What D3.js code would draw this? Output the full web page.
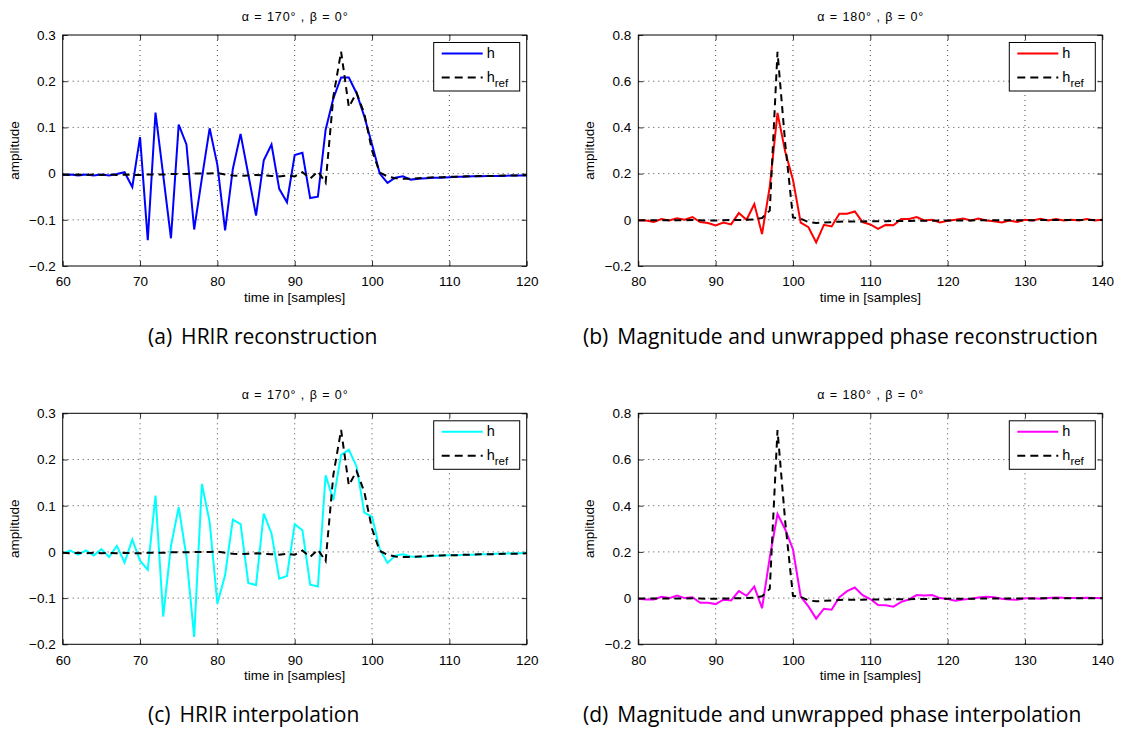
<!DOCTYPE html>
<html>
<head>
<meta charset="utf-8">
<script src="https://cdn.jsdelivr.net/npm/d3@7/dist/d3.min.js"></script>
<style>
  body { margin: 0; background: #fff; }
  svg { display: block; }
</style>
</head>
<body>
<svg id="chart" width="1123" height="731"></svg>
<script>
"use strict";

// ---------- data ----------
// HRIR panels (a) and (c): samples 60..120
const hrirStart = 60;
const hrirXTicks = [60, 70, 80, 90, 100, 110, 120];
const hrirYTicks = [-0.2, -0.1, 0, 0.1, 0.2, 0.3];
const hrirYLabels = ["\u22120.2", "\u22120.1", "0", "0.1", "0.2", "0.3"];

const hrirRef = [
  -0.002, -0.003, -0.002, -0.003, -0.002, -0.003, -0.002, -0.003, -0.002, -0.003,
  -0.003, -0.002, -0.002, -0.002, -0.001, -0.001, -0.001, 0.000, 0.000, 0.000,
  0.001, -0.002, -0.004, -0.005, -0.004, -0.003, -0.004, -0.005, -0.006, -0.004,
  -0.006, 0.003, -0.011, 0.005, -0.020, 0.167, 0.264, 0.144, 0.175, 0.130,
  0.050, 0.002, -0.006, -0.010, -0.011, -0.011, -0.010, -0.009, -0.008, -0.008,
  -0.007, -0.007, -0.006, -0.006, -0.005, -0.005, -0.005, -0.004, -0.004, -0.004,
  -0.003
];

const hrirRecon = [
  -0.003, -0.002, -0.004, -0.002, -0.004, -0.002, -0.004, -0.001, 0.003, -0.029,
  0.079, -0.144, 0.132, -0.004, -0.140, 0.106, 0.063, -0.121, -0.010, 0.098,
  0.019, -0.123, 0.010, 0.086, -0.002, -0.091, 0.029, 0.063, -0.033, -0.062,
  0.040, 0.045, -0.053, -0.050, 0.095, 0.163, 0.208, 0.208, 0.174, 0.124,
  0.063, 0.000, -0.020, -0.009, -0.006, -0.013, -0.011, -0.010, -0.009, -0.009,
  -0.008, -0.007, -0.007, -0.006, -0.006, -0.005, -0.005, -0.005, -0.004, -0.004,
  -0.004
];

const hrirInterp = [
  -0.003, 0.003, -0.006, 0.003, -0.008, 0.006, -0.011, 0.013, -0.023, 0.027,
  -0.019, -0.039, 0.122, -0.140, 0.013, 0.097, -0.010, -0.184, 0.147, 0.065,
  -0.112, -0.050, 0.070, 0.060, -0.067, -0.072, 0.083, 0.040, -0.058, -0.052,
  0.060, 0.047, -0.071, -0.075, 0.166, 0.112, 0.210, 0.221, 0.185, 0.085,
  0.076, 0.006, -0.024, -0.008, -0.005, -0.010, -0.011, -0.010, -0.009, -0.008,
  -0.007, -0.007, -0.006, -0.006, -0.005, -0.005, -0.004, -0.004, -0.003, -0.003,
  -0.002
];

// Magnitude / phase panels (b) and (d): samples 80..140
const magStart = 80;
const magXTicks = [80, 90, 100, 110, 120, 130, 140];
const magYTicks = [-0.2, 0, 0.2, 0.4, 0.6, 0.8];
const magYLabels = ["\u22120.2", "0", "0.2", "0.4", "0.6", "0.8"];

const magRef = [
  -0.002, -0.002, -0.002, -0.002, -0.002, -0.002, -0.002, -0.001, -0.002, -0.003,
  -0.003, -0.002, -0.001, -0.001, 0.000, 0.002, 0.008, 0.040, 0.727, 0.330,
  0.010, 0.005, -0.010, -0.014, -0.012, -0.010, -0.008, -0.007, -0.007, -0.007,
  -0.006, -0.006, -0.006, -0.005, -0.005, -0.005, -0.004, -0.004, -0.004, -0.003,
  -0.003, -0.003, -0.003, -0.003, -0.002, -0.002, -0.002, -0.002, -0.002, -0.002,
  -0.002, -0.002, -0.001, -0.001, -0.001, -0.001, -0.001, -0.001, -0.001, -0.001,
  -0.001
];

const magRecon = [
  -0.003, -0.003, -0.009, 0.003, -0.003, 0.007, 0.000, 0.012, -0.010, -0.014,
  -0.024, -0.012, -0.020, 0.029, 0.000, 0.068, -0.062, 0.144, 0.463, 0.295,
  0.173, -0.012, -0.032, -0.098, -0.022, -0.029, 0.026, 0.026, 0.036, -0.010,
  -0.020, -0.039, -0.022, -0.024, 0.004, 0.004, 0.012, -0.003, 0.000, -0.012,
  -0.004, 0.000, 0.006, -0.003, 0.006, -0.003, -0.006, -0.012, -0.003, -0.009,
  0.000, -0.003, 0.004, -0.003, 0.003, -0.003, 0.000, -0.003, 0.003, -0.003,
  0.000
];

const magInterp = [
  -0.003, -0.006, -0.006, 0.006, 0.000, 0.011, 0.000, 0.004, -0.020, -0.020,
  -0.026, -0.007, -0.010, 0.030, 0.010, 0.050, -0.044, 0.176, 0.364, 0.297,
  0.211, 0.007, -0.036, -0.089, -0.046, -0.050, 0.004, 0.030, 0.046, 0.013,
  -0.004, -0.030, -0.031, -0.037, -0.016, -0.006, 0.013, 0.011, 0.013, 0.000,
  -0.004, -0.011, -0.006, -0.003, 0.003, 0.006, 0.004, -0.003, -0.006, -0.007,
  -0.001, -0.001, -0.003, 0.000, 0.003, 0.001, 0.000, 0.000, 0.001, 0.000,
  0.000
];

// ---------- layout ----------
const svg = d3.select("#chart");
const plotW = 464;
const plotH = 231;
const colLeft = [62.7, 638.3];
const rowTop = [35, 413.3];

const panels = [
  { left: colLeft[0], top: rowTop[0], start: hrirStart, xTicks: hrirXTicks, yTicks: hrirYTicks,
    yLabels: hrirYLabels, h: hrirRecon, ref: hrirRef, color: "#0000ff",
    title: "\u03b1 = 170\u00b0 , \u03b2 = 0\u00b0", caption: "(a)", captionText: "HRIR reconstruction", capX: 148 },
  { left: colLeft[1], top: rowTop[0], start: magStart, xTicks: magXTicks, yTicks: magYTicks,
    yLabels: magYLabels, h: magRecon, ref: magRef, color: "#ff0000",
    title: "\u03b1 = 180\u00b0 , \u03b2 = 0\u00b0", caption: "(b)", captionText: "Magnitude and unwrapped phase reconstruction", capX: 583 },
  { left: colLeft[0], top: rowTop[1], start: hrirStart, xTicks: hrirXTicks, yTicks: hrirYTicks,
    yLabels: hrirYLabels, h: hrirInterp, ref: hrirRef, color: "#00ffff",
    title: "\u03b1 = 170\u00b0 , \u03b2 = 0\u00b0", caption: "(c)", captionText: "HRIR interpolation", capX: 148 },
  { left: colLeft[1], top: rowTop[1], start: magStart, xTicks: magXTicks, yTicks: magYTicks,
    yLabels: magYLabels, h: magInterp, ref: magRef, color: "#ff00ff",
    title: "\u03b1 = 180\u00b0 , \u03b2 = 0\u00b0", caption: "(d)", captionText: "Magnitude and unwrapped phase interpolation", capX: 583 }
];

const axisFont = "'Liberation Sans', Arial, Helvetica, sans-serif";
const capFont = "'Open Sans', Lato, sans-serif";
const captions = [];

function drawPanel(p) {
  const g = svg.append("g").attr("transform", `translate(${p.left},${p.top})`);

  const x = d3.scaleLinear()
    .domain([p.xTicks[0], p.xTicks[p.xTicks.length - 1]])
    .range([0, plotW]);
  const y = d3.scaleLinear()
    .domain([p.yTicks[0], p.yTicks[p.yTicks.length - 1]])
    .range([plotH, 0]);

  // dotted grid
  g.append("g").selectAll("line")
    .data(p.xTicks.slice(1, -1))
    .join("line")
    .attr("x1", d => x(d)).attr("x2", d => x(d))
    .attr("y1", 0).attr("y2", plotH)
    .attr("stroke", "#333").attr("stroke-width", 0.9)
    .attr("stroke-dasharray", "1,4");
  g.append("g").selectAll("line")
    .data(p.yTicks.slice(1, -1))
    .join("line")
    .attr("x1", 0).attr("x2", plotW)
    .attr("y1", d => y(d)).attr("y2", d => y(d))
    .attr("stroke", "#333").attr("stroke-width", 0.9)
    .attr("stroke-dasharray", "1,4");

  // axes: inward ticks on all four sides
  const bottom = g.append("g")
    .attr("transform", `translate(0,${plotH})`)
    .call(d3.axisBottom(x).tickValues(p.xTicks).tickSizeInner(-5).tickSizeOuter(0).tickPadding(10.8));
  const left = g.append("g")
    .call(d3.axisLeft(y).tickValues(p.yTicks).tickSizeInner(-5).tickSizeOuter(0).tickPadding(7)
      .tickFormat((d, i) => p.yLabels[i]));
  const top = g.append("g")
    .call(d3.axisTop(x).tickValues(p.xTicks).tickSizeInner(-5).tickSizeOuter(0).tickFormat(""));
  const right = g.append("g")
    .attr("transform", `translate(${plotW},0)`)
    .call(d3.axisRight(y).tickValues(p.yTicks).tickSizeInner(-5).tickSizeOuter(0).tickFormat(""));

  [bottom, left, top, right].forEach(a => {
    a.select(".domain").remove();
    a.selectAll(".tick line").attr("stroke", "#000").attr("stroke-width", 0.8);
    a.selectAll("text")
      .attr("fill", "#000")
      .style("font-family", axisFont)
      .style("font-size", "13.5px");
  });

  // curves
  const line = d3.line()
    .x((d, i) => x(p.start + i))
    .y(d => y(d));

  g.append("path")
    .datum(p.h)
    .attr("d", line)
    .attr("fill", "none")
    .attr("stroke", p.color)
    .attr("stroke-width", 2)
    .attr("stroke-linejoin", "miter");

  g.append("path")
    .datum(p.ref)
    .attr("d", line)
    .attr("fill", "none")
    .attr("stroke", "#000")
    .attr("stroke-width", 2)
    .attr("stroke-dasharray", "7,5");

  // axes box
  g.append("rect")
    .attr("width", plotW).attr("height", plotH)
    .attr("fill", "none").attr("stroke", "#000").attr("stroke-width", 1);

  // title
  g.append("text")
    .attr("x", plotW / 2).attr("y", -14)
    .attr("text-anchor", "middle")
    .attr("textLength", 106).attr("lengthAdjust", "spacing")
    .style("font-family", axisFont).style("font-size", "12.5px")
    .text(p.title);

  // axis labels
  g.append("text")
    .attr("x", plotW / 2).attr("y", plotH + 36)
    .attr("text-anchor", "middle")
    .style("font-family", axisFont).style("font-size", "13.5px")
    .text("time in [samples]");

  g.append("text")
    .attr("transform", `translate(${-44},${plotH / 2}) rotate(-90)`)
    .attr("text-anchor", "middle")
    .style("font-family", axisFont).style("font-size", "13.5px")
    .text("amplitude");

  // legend
  const lgW = 86, lgH = 48.5;
  const lg = g.append("g").attr("transform", `translate(${plotW - 7 - lgW},7.5)`);
  lg.append("rect")
    .attr("width", lgW).attr("height", lgH)
    .attr("fill", "#fff").attr("stroke", "#000").attr("stroke-width", 1);
  lg.append("line")
    .attr("x1", 8).attr("x2", 49).attr("y1", 11).attr("y2", 11)
    .attr("stroke", p.color).attr("stroke-width", 2);
  lg.append("line")
    .attr("x1", 8).attr("x2", 49).attr("y1", 35).attr("y2", 35)
    .attr("stroke", "#000").attr("stroke-width", 2).attr("stroke-dasharray", "8,5");
  lg.append("text")
    .attr("x", 53).attr("y", 15.5)
    .style("font-family", axisFont).style("font-size", "14.5px")
    .text("h");
  const t2 = lg.append("text")
    .attr("x", 53).attr("y", 39.5)
    .style("font-family", axisFont).style("font-size", "14.5px");
  t2.append("tspan").text("h");
  t2.append("tspan").attr("dy", 5).style("font-size", "11.5px").text("ref");

  // sub-figure caption
  const cap = svg.append("text")
    .attr("x", p.capX).attr("y", p.top + plotH + 77.5)
    .style("font-family", capFont).style("font-size", "19px")
    .attr("fill", "#000");
  cap.append("tspan").text(p.caption);
  cap.append("tspan").attr("dx", 9).text(p.captionText);
  captions.push(cap);
}

panels.forEach(drawPanel);

// size the captions so the long (b) caption spans about the same width as in the figure
const capTarget = 506;
const capMeasured = captions[1].node().getComputedTextLength();
const capSize = 19 * capTarget / capMeasured;
captions.forEach(c => c.style("font-size", capSize.toFixed(2) + "px"));
</script>
</body>
</html>
